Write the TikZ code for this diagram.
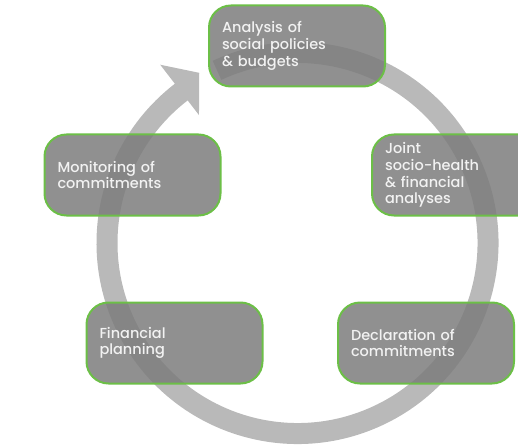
\documentclass[tikz,border=0pt]{standalone}
\usepackage{fontspec}
\setmainfont{Poppins}[UprightFont={* Medium}]
\usetikzlibrary{calc}
\definecolor{stageline}{HTML}{6CBF47}
\definecolor{stagefill}{HTML}{7D7D7D}
\definecolor{cyclegray}{HTML}{B9B9B9}
\definecolor{stagetext}{HTML}{F2F2F2}
\begin{document}
\begin{tikzpicture}[x=1pt,y=-1pt,
  stage/.style={draw=stageline, line width=2pt, fill=stagefill, fill opacity=0.85,
    text opacity=1, rounded corners=22pt, minimum width=176pt, minimum height=81pt,
    text width=150pt, inner xsep=13pt, align=left, text=stagetext,
    font=\fontsize{14.5}{16.7}\selectfont},
  cyclearc/.style={draw=cyclegray, line width=21pt}]
\useasboundingbox (0,0) rectangle (518,446);
\clip (0,0) rectangle (518,446);

% the cycle: a thick ring ending in an arrowhead at the upper left
\coordinate (hub) at (297.5,243);
\draw[cyclearc] (hub) ++(245:190.5) arc[start angle=245, end angle=592.8, radius=190.5];
\fill[cyclegray] ($(hub)+(232.4:225)$) -- ($(hub)+(240:196.5)$) -- ($(hub)+(232.4:161.5)$) -- cycle;

% the five stages
\node[stage] (analysis) at (297,46) {Analysis of\\social policies\\\& budgets};
\node[stage] (joint) at (460,175) {Joint\\socio-health\\\& financial\\analyses};
\node[stage] (monitor) at (132.5,175) {Monitoring of\\commitments};
\node[stage] (planning) at (174.5,343) {Financial\\planning};
\node[stage] (declare) at (426,343) {Declaration of\\commitments};
\end{tikzpicture}
\end{document}
